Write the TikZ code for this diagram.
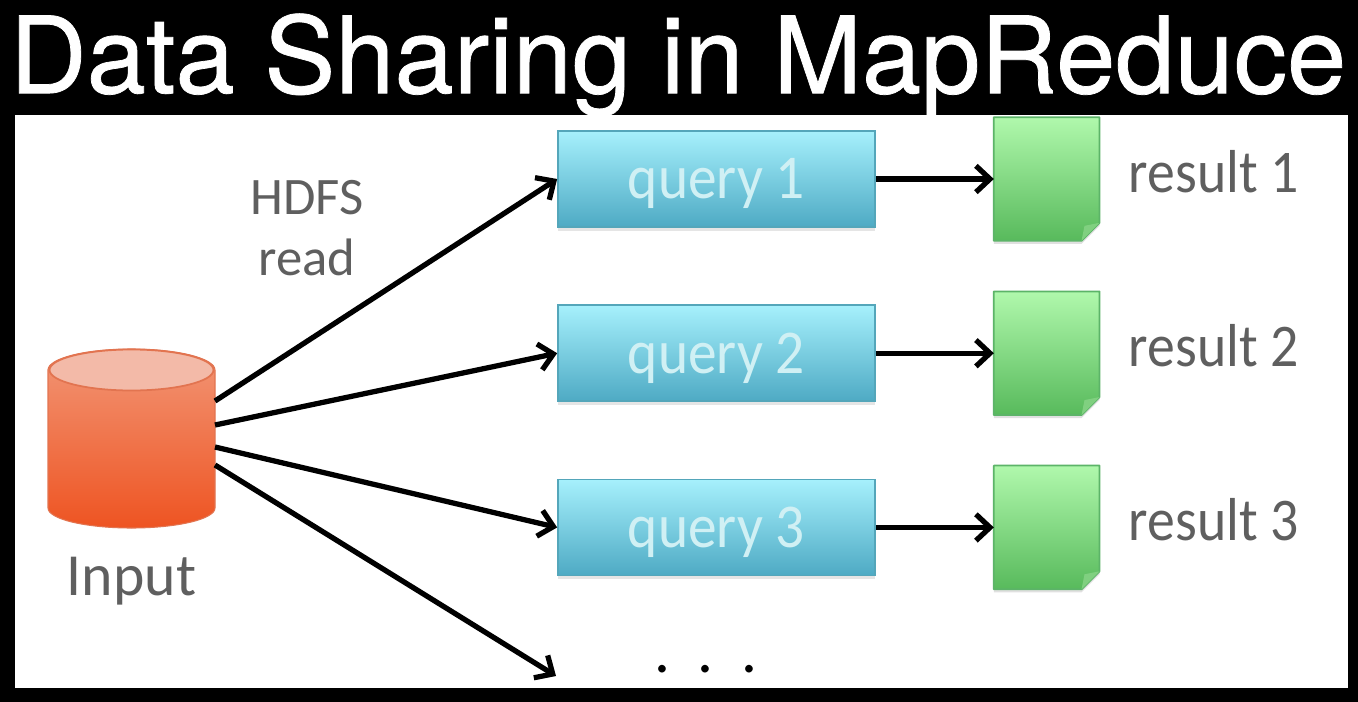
\documentclass[tikz,border=0pt]{standalone}
\usepackage{fontspec}
\setmainfont{Carlito}
\newfontfamily\narrowfont[FakeStretch=0.92]{Carlito}
\newfontfamily\titlefont[FakeBold=0.7]{TeX Gyre Heros}
\usepackage{xcolor}
\usetikzlibrary{arrows.meta,positioning,calc,shapes.geometric,shadows}
\definecolor{labelgrey}{RGB}{95,95,95}
\definecolor{querytext}{RGB}{208,240,244}
\definecolor{querytop}{RGB}{166,240,252}
\definecolor{querybottom}{RGB}{78,170,196}
\definecolor{queryedge}{RGB}{84,166,186}
\definecolor{resulttop}{RGB}{176,248,172}
\definecolor{resultbottom}{RGB}{88,186,92}
\definecolor{resultedge}{RGB}{92,180,104}
\definecolor{resultfold}{RGB}{128,208,128}
\definecolor{inputtop}{RGB}{242,150,118}
\definecolor{inputbottom}{RGB}{238,84,34}
\definecolor{inputface}{RGB}{243,186,168}
\definecolor{inputedge}{RGB}{226,116,80}
\tikzset{
  querybox/.style={draw=queryedge,line width=1pt,top color=querytop,bottom color=querybottom,minimum width=6.34cm,minimum height=1.92cm,text=querytext,font=\narrowfont\fontsize{35.5}{35.5}\selectfont,inner sep=0pt,text height=1cm,text depth=0.2cm,drop shadow={shadow xshift=0pt,shadow yshift=-2pt,opacity=0.2}},
  resultdoc/.style={minimum width=2.1cm,minimum height=2.46cm,inner sep=0pt},
  resultpage/.style={draw=resultedge,line width=1pt,top color=resulttop,bottom color=resultbottom,line join=round},
  resultlabel/.style={text=labelgrey,font=\narrowfont\fontsize{34.5}{34.5}\selectfont,inner sep=0pt,yshift=0.15cm},
  plainlabel/.style={text=labelgrey,font=\fontsize{30}{34.6}\selectfont,inner sep=0pt,align=center}
}
\newcommand{\resultsheet}[1]{%
  \fill[black,opacity=0.12] ($(#1.north west)+(0,3)$) -- ($(#1.north east)+(0,3)$) -- ($(#1.south east)+(0,-15)$) -- ($(#1.south east)+(-18,3)$) -- ($(#1.south west)+(0,3)$) -- cycle;
  \path[resultpage] (#1.north west) -- (#1.north east) -- ($(#1.south east)+(0,-18)$) -- ($(#1.south east)+(-18,0)$) -- (#1.south west) -- cycle;
  \fill[resultfold] ($(#1.south east)+(0,-18)$) -- ($(#1.south east)+(-18,0)$) -- ($(#1.south east)+(-15,-15)$) -- cycle;
}
\begin{document}
\begin{tikzpicture}[x=0.02cm,y=-0.02cm,>={Straight Barb[length=8pt,width=15pt]},node distance=1.53cm]
\useasboundingbox (0,0) rectangle (1358,702);
\fill[black] (0,0) rectangle (1358,702);
\fill[white] (15,115) rectangle (1348,688);
\node[text=white,font=\titlefont\fontsize{60.6}{60.6}\selectfont,inner sep=0pt] (title) at (678,65) {Data Sharing in MapReduce};
% input store
\node[minimum width=3.34cm,minimum height=3.58cm,inner sep=0pt] (input) at (131.5,438.5) {};
\path[draw=inputedge,line width=0.6pt,top color=inputtop,bottom color=inputbottom] (48,370) -- (48,508) arc[start angle=180,end angle=0,x radius=83.5,y radius=20] -- (215,370) arc[start angle=360,end angle=180,x radius=83.5,y radius=21] -- cycle;
\node[ellipse,draw=inputedge,line width=1pt,fill=inputface,minimum width=3.28cm,minimum height=0.82cm,inner sep=0pt] (inputface) at (131.5,370) {};
\node[font=\fontsize{34}{34}\selectfont,text=labelgrey,inner sep=0pt,below=0.56cm of input] (inputlabel) {Input};
% queries
\node[querybox] (q1) at (716.5,179) {query 1};
\node[querybox,below=of q1] (q2) {query 2};
\node[querybox,below=of q2] (q3) {query 3};
% results
\node[resultdoc,right=2.36cm of q1] (doc1) {};
\node[resultdoc,right=2.36cm of q2] (doc2) {};
\node[resultdoc,right=2.36cm of q3] (doc3) {};
\resultsheet{doc1}
\resultsheet{doc2}
\resultsheet{doc3}
\node[resultlabel,right=0.58cm of doc1] (res1) {result 1};
\node[resultlabel,right=0.58cm of doc2] (res2) {result 2};
\node[resultlabel,right=0.58cm of doc3] (res3) {result 3};
\node[plainlabel] (hdfs) at (307,228) {HDFS\\read};
\node[text=black,font=\fontsize{36}{36}\selectfont,inner sep=0pt] (dots) at (706,669) {.\hspace{0.55cm}.\hspace{0.55cm}.};
% start and end points of the fan
\coordinate (out1) at (215,401);
\coordinate (out2) at (215,425);
\coordinate (out3) at (215,447);
\coordinate (out4) at (215,465);
\coordinate (more) at (556,676);
\draw[->,line width=3pt] (out1) -- (q1.west);
\draw[->,line width=3pt] (out2) -- (q2.west);
\draw[->,line width=3pt] (out3) -- (q3.west);
\draw[->,line width=3pt] (out4) -- (more);
\draw[->,line width=3pt] (q1) -- (doc1);
\draw[->,line width=3pt] (q2) -- (doc2);
\draw[->,line width=3pt] (q3) -- (doc3);
\end{tikzpicture}
\end{document}
